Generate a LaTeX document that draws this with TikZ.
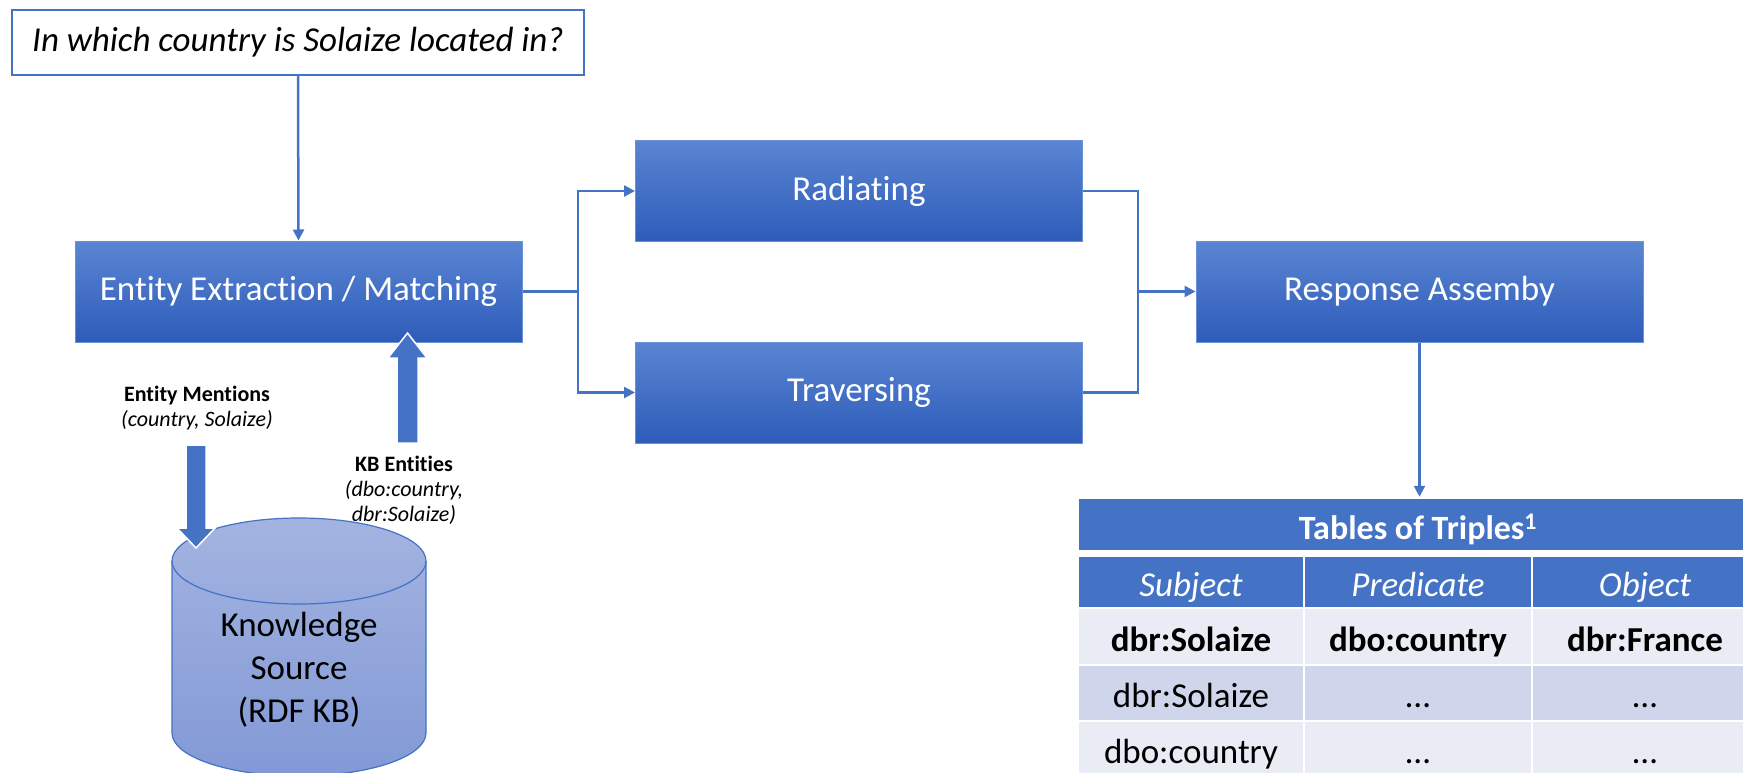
\documentclass[tikz,border=0pt]{standalone}
\usepackage{fontspec}
\setmainfont{Carlito}[Ligatures={NoCommon}]
\usetikzlibrary{arrows.meta}
\definecolor{acc}{HTML}{4472C4}
\definecolor{btop}{HTML}{5B85D3}
\definecolor{bmid}{HTML}{3A6DCE}
\definecolor{bbot}{HTML}{2D5CB9}
\definecolor{bline}{HTML}{6A90DA}
\definecolor{cyltop}{HTML}{A4B4E1}
\definecolor{cylbot}{HTML}{8299D6}
\definecolor{rowa}{HTML}{E9EBF5}
\definecolor{rowb}{HTML}{CFD5EA}
\begin{document}
\begin{tikzpicture}[x=1pt,y=-1pt,
  big/.style={font=\fontsize{35}{43}\selectfont},
  small/.style={font=\fontsize{22}{25}\selectfont},
  procbox/.style={big, minimum width=447pt, minimum height=101pt, inner sep=0pt,
    top color=btop, middle color=bmid, bottom color=bbot,
    draw=bline, line width=1pt, text=white},
  conn/.style={draw=acc, line width=2.5pt},
  arr/.style={conn, -{Triangle[length=11pt,width=11pt]}},
  blockarrow/.style={fill=acc, draw=white, line width=1.5pt},
  cell/.style={big, inner sep=0pt, draw=white, line width=2.5pt, minimum height=#1,
    text height=30pt, text depth=1pt},
  headcell/.style={cell=#1, fill=acc, text=white},
]
\useasboundingbox (0,0) rectangle (1743,773);
\clip (0,0) rectangle (1743,773);

% question
\node[big, draw=acc, line width=2.5pt, minimum width=572pt, minimum height=65pt, inner sep=0pt,
  font=\fontsize{35}{43}\selectfont\itshape] (q) at (298,42.5) {In which country is Solaize located in?};

% process boxes
\node[procbox] (ent) at (298.5,291.5) {Entity Extraction / Matching};
\node[procbox, minimum height=100pt] (rad) at (859,191) {Radiating};
\node[procbox] (trav) at (859,392.5) {Traversing};
\node[procbox] (resp) at (1419.5,291.5) {Response Assemby};

% connectors
\draw[arr] (q.south) -- (ent.north);
\coordinate (bl) at (578,291.5);
\coordinate (br) at (1138,291.5);
\draw[conn] (ent.east) -- (bl);
\draw[arr] (bl) |- (rad.west);
\draw[arr] (bl) |- (trav.west);
\draw[conn] (rad.east) -| (br);
\draw[conn] (trav.east) -| (br);
\draw[arr] (br) -- (resp.west);

% cylinder
\shade[top color=cyltop, bottom color=cylbot]
  (172,561) -- (172,733) arc[start angle=180, end angle=360, x radius=127pt, y radius=43pt]
  -- (426,561) arc[start angle=0, end angle=180, x radius=127pt, y radius=43pt] -- cycle;
\draw[acc, line width=1.2pt]
  (172,561) -- (172,733) arc[start angle=180, end angle=360, x radius=127pt, y radius=43pt]
  -- (426,561);
\draw[acc, line width=1.2pt] (299,561) ellipse[x radius=127pt, y radius=43pt];
\node[big, align=center] (kb) at (299,670) {Knowledge\\Source\\(RDF KB)};

% block arrows
\draw[blockarrow] (186,445) -- (206,445) -- (206,528) -- (215,528) -- (196,548)
  -- (177,528) -- (186,528) -- cycle;
\draw[blockarrow] (397,443) -- (418,443) -- (418,358) -- (427,358) -- (407.5,333)
  -- (388,358) -- (397,358) -- cycle;

% labels
\node[small, align=center] (em) at (197,408.5) {\textbf{Entity Mentions}\\\textit{(country, Solaize)}};
\node[small, align=center] (kbe) at (404,490) {\textbf{KB Entities}\\\textit{(dbo:country,}\\\textit{dbr:Solaize)}};

% table
\node[headcell=53pt, minimum width=680pt, font=\fontsize{34}{40}\selectfont\bfseries] (title) at (1418,524.5) {Tables of Triples\textsuperscript{1}};
\node[headcell=52pt, minimum width=226pt, font=\fontsize{35}{42}\selectfont\itshape] (hs) at (1191,582) {Subject};
\node[headcell=52pt, minimum width=228pt, font=\fontsize{35}{42}\selectfont\itshape] (hp) at (1418,582) {Predicate};
\node[headcell=52pt, minimum width=226pt, font=\fontsize{35}{42}\selectfont\itshape] (ho) at (1645,582) {Object};
\node[cell=57pt, minimum width=226pt, fill=rowa, font=\fontsize{35}{42}\selectfont\bfseries] (a1) at (1191,636.5) {dbr:Solaize};
\node[cell=57pt, minimum width=228pt, fill=rowa, font=\fontsize{35}{42}\selectfont\bfseries] (b1) at (1418,636.5) {dbo:country};
\node[cell=57pt, minimum width=226pt, fill=rowa, font=\fontsize{35}{42}\selectfont\bfseries] (c1) at (1645,636.5) {dbr:France};
\node[cell=56pt, minimum width=226pt, fill=rowb] (a2) at (1191,693) {dbr:Solaize};
\node[cell=56pt, minimum width=228pt, fill=rowb] (b2) at (1418,693) {…};
\node[cell=56pt, minimum width=226pt, fill=rowb] (c2) at (1645,693) {…};
\node[cell=56pt, minimum width=226pt, fill=rowa] (a3) at (1191,749) {dbo:country};
\node[cell=56pt, minimum width=228pt, fill=rowa] (b3) at (1418,749) {…};
\node[cell=56pt, minimum width=226pt, fill=rowa] (c3) at (1645,749) {…};

\draw[arr] (resp.south) -- (resp.south |- title.north);
\end{tikzpicture}
\end{document}
